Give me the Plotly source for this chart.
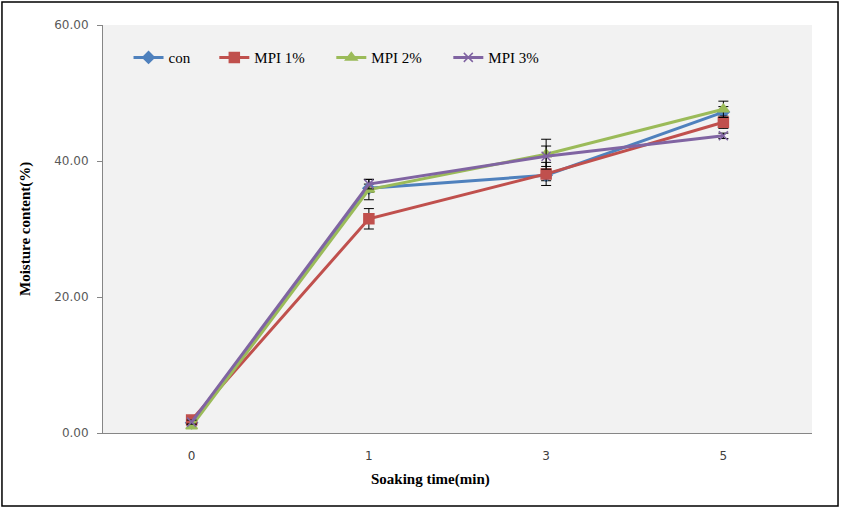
import plotly.graph_objects as go

# Soaking time categories
times = ['0', '1', '3', '5']

con = [1.5, 36.0, 37.9, 47.2]
con_err = [0.3, 0.6, 0.8, 0.8]

mpi1 = [1.9, 31.5, 38.1, 45.7]
mpi1_err = [0.3, 1.5, 1.7, 0.9]

mpi2 = [1.0, 35.8, 41.0, 47.6]
mpi2_err = [0.3, 1.5, 2.2, 1.2]

mpi3 = [1.6, 36.6, 40.7, 43.7]
mpi3_err = [0.3, 0.7, 1.5, 0.4]

_BLUE = '#4F81BD'
_RED = '#C0504D'
_GREEN = '#9BBB59'
_PURPLE = '#8064A2'

fig = go.Figure()

series = [
    ('con', con, con_err, _BLUE, 'diamond', 9, 'legend'),
    ('MPI 1%', mpi1, mpi1_err, _RED, 'square', 10, 'legend2'),
    ('MPI 2%', mpi2, mpi2_err, _GREEN, 'triangle-up', 10, 'legend2'),
    ('MPI 3%', mpi3, mpi3_err, _PURPLE, 'x-thin', 9, 'legend2'),
]
for nm, ys, err, clr, sym, sz, lg in series:
    fig.add_trace(go.Scatter(
        x=times, y=ys, name=nm, mode='lines+markers', legend=lg,
        line=dict(color=clr, width=3),
        marker=dict(symbol=sym, size=sz, color=clr,
                    line=dict(color=clr, width=1.5)),
        error_y=dict(type='data', array=err, visible=True,
                     color='black', thickness=1, width=5),
    ))

# outer frame round the whole picture
fig.add_shape(type='rect', xref='paper', yref='paper',
              x0=-0.1425, x1=1.0367, y0=-0.179, y1=1.0564,
              line=dict(color='black', width=1.5), fillcolor='rgba(0,0,0,0)')

fig.add_annotation(xref='paper', yref='paper', x=-0.11, y=0.5,
                   xanchor='center', yanchor='middle',
                   text='<b>Moisture content(%)</b>', textangle=-90,
                   showarrow=False,
                   font=dict(family='Liberation Serif', size=15, color='black'))
fig.add_annotation(xref='paper', yref='paper', x=0.462, y=-0.115,
                   xanchor='center', yanchor='middle',
                   text='<b>Soaking time(min)</b>', showarrow=False,
                   font=dict(family='Liberation Serif', size=15, color='black'))

_lg = dict(orientation='h', yanchor='middle', xanchor='left',
           bgcolor='rgba(0,0,0,0)',
           font=dict(family='Liberation Serif', size=15))
fig.update_layout(
    width=842, height=509,
    margin=dict(l=103, r=30, t=25, b=76),
    paper_bgcolor='white', plot_bgcolor='#F2F2F2',
    font=dict(family='Liberation Serif', size=13, color='black'),
    legend=dict(_lg, x=0.036, y=0.92),
    legend2=dict(_lg, x=0.157, y=0.92, entrywidth=72),
    showlegend=True,
)
fig.update_xaxes(type='category', range=[-0.5, 3.5], showgrid=False,
                 showline=True, linecolor='#868686', linewidth=1,
                 ticks='', ticklabelstandoff=12,
                 tickfont=dict(family='DejaVu Sans', size=12, color='#404040'))
fig.update_yaxes(range=[0, 60], dtick=20, tickformat='.2f', showgrid=False,
                 zeroline=False, showline=True, linecolor='#868686', linewidth=1,
                 ticks='outside', ticklen=5, tickcolor='#868686',
                 ticklabelstandoff=6,
                 tickfont=dict(family='DejaVu Sans', size=12, color='#595959'))

fig.write_html('out.html', config={'displayModeBar': False},
               post_script="document.body.style.margin='0';")
